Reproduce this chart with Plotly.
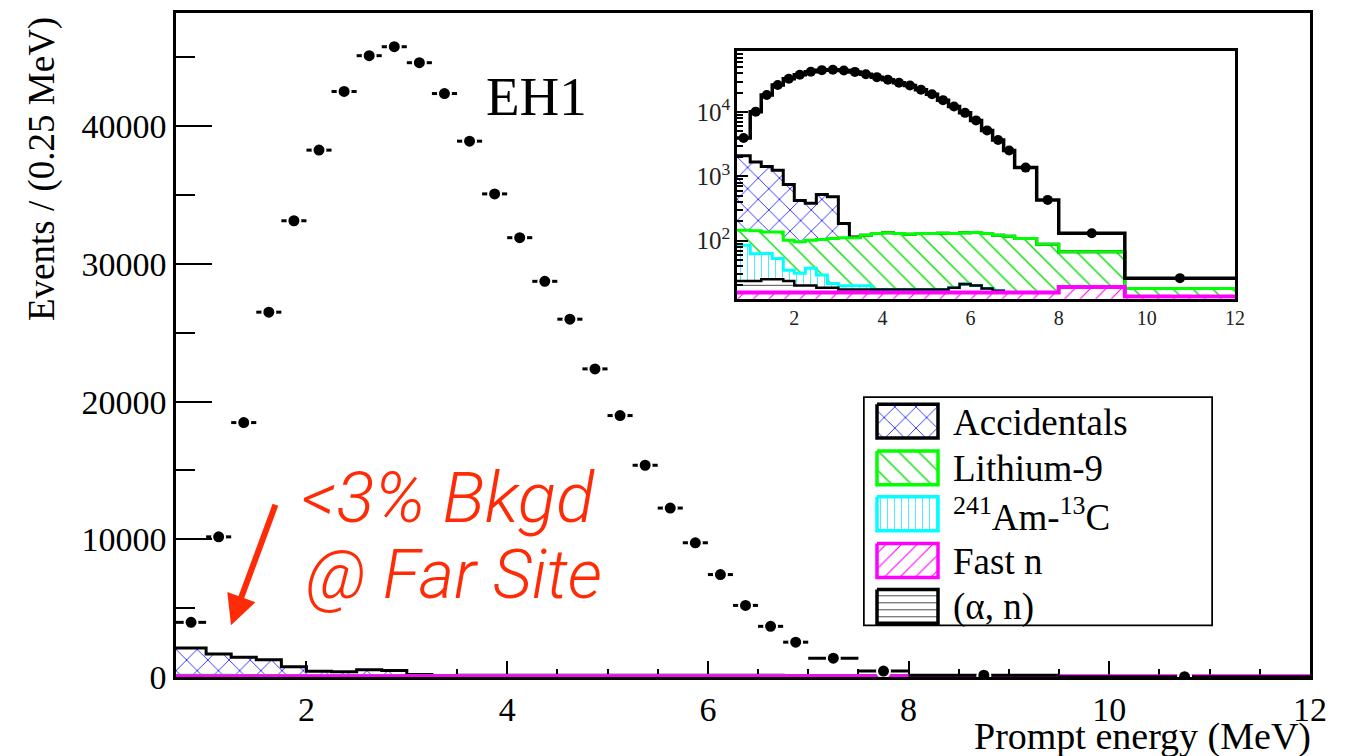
import numpy as np
import plotly.graph_objects as go

# ---------------- data ----------------
bin_edges = [0.7, 1.0, 1.25, 1.5, 1.75, 2.0, 2.25, 2.5, 2.75, 3.0, 3.25, 3.5, 3.75,
             4.0, 4.25, 4.5, 4.75, 5.0, 5.25, 5.5, 5.75, 6.0, 6.25, 6.5, 6.75, 7.0,
             7.5, 8.0, 9.5, 12.0]

data_counts = [3970, 10180, 18480, 26500, 33140, 38270, 42530, 45130, 45780, 44620,
               42380, 38920, 35090, 31910, 28740, 25990, 22380, 18990, 15380, 12270,
               9750, 7440, 5200, 3680, 2530, 1370, 430, 130, 26]

# background components (stacked bottom -> top)
fast_n = [15.5, 15.5, 15.5, 15.5, 15.5, 15.5, 15.5, 15.5, 15.5, 15.5, 15.5, 15.5, 15.5,
          15.5, 15.5, 15.5, 15.5, 15.5, 15.5, 15.5, 15.5, 15.5, 15.5, 15.5, 15.5, 15.5,
          15.5, 19, 13.5]
alpha_n = [8, 8, 9.5, 9.5, 8, 4.5, 4.5, 3, 3, 1.8, 1.8, 1.8, 1.8, 1.8, 1.8, 1.8, 1.8,
           1.8, 1.8, 3, 5.5, 4.5, 2.5, 1, 0, 0, 0, 0, 0]
am_c = [61, 39, 38, 27.5, 11, 11, 17, 10.5, 3, 2.5, 2.5, 2.5, 0, 0, 0, 0, 0, 0, 0, 0,
        0, 0, 0, 0, 0, 0, 0, 0, 0]
li9 = [60, 80, 73, 83.5, 66.5, 65, 64, 75, 86.5, 91, 91, 101, 112, 115, 112, 108, 112,
       112, 113, 110.5, 111, 114, 111, 104.5, 101.5, 92.5, 72.5, 48, 4.5]
accidentals = [1955, 1527, 1294, 1114, 649, 324, 279, 416, 372, 74, 3, 0, 0, 0, 0, 0,
               0, 0, 0, 0, 0, 0, 0, 0, 0, 0, 0, 0, 0]

component_names = ["Fast n", "(α, n)", "<sup>241</sup>Am-<sup>13</sup>C", "Lithium-9", "Accidentals"]
components = [fast_n, alpha_n, am_c, li9, accidentals]

# ---------------- styles ----------------
line_colors = ["#ff00ff", "#000000", "#00ffff", "#00ff00", "#000000"]
pat_colors = ["#ff00ff", "#000000", "#00e5ff", "#00dd00", "#0000ff"]
pat_shapes = ["/", "-", "|", "\\", "x"]
pat_sizes = [11, 7, 7, 14, 15]

RED = "#ff2b06"
SERIF = "Liberation Serif"

# the page body adds an 8 px offset; geometry below is in screen pixels
OFF = 8
FIG_W, FIG_H = 1350 - OFF, 756 - OFF
L, R, T, B = 176, 1310, 10, 677
W, H = R - L, B - T


def px(x):
    return (x - L) / W


def py(y):
    return (B - y) / H


edges = np.array(bin_edges)
centers = 0.5 * (edges[:-1] + edges[1:])
halfw = 0.5 * (edges[1:] - edges[:-1])
stack = np.cumsum(np.array(components, dtype=float), axis=0)
YMAX = 48230


def step_y(vals):
    v = list(vals)
    return v + [v[-1]]


def pattern(i):
    return dict(shape=pat_shapes[i], fgcolor=pat_colors[i], bgcolor="white",
                size=pat_sizes[i], solidity=0.1, fillmode="replace")


fig = go.Figure()

for xa, ya in [("x", "y"), ("x2", "y2")]:
    # baseline below the visible range
    fig.add_trace(go.Scatter(x=edges, y=np.full(len(edges), 1.0), mode="lines",
                             line=dict(width=0, shape="hv"), xaxis=xa, yaxis=ya,
                             showlegend=False, hoverinfo="skip"))
    # fills, bottom -> top
    for i in range(len(components)):
        fig.add_trace(go.Scatter(x=edges, y=step_y(stack[i]), mode="lines",
                                 line=dict(width=0, shape="hv"), fill="tonexty",
                                 fillcolor="rgba(0,0,0,0)", fillpattern=pattern(i),
                                 xaxis=xa, yaxis=ya, showlegend=False, hoverinfo="skip"))
    # outlines, top of stack first so lower components are drawn over
    widths = [4, 2.5, 3, 3, 3] if xa == "x2" else [5, 2, 2, 2.5, 3]
    for i in reversed(range(len(components))):
        fig.add_trace(go.Scatter(x=edges, y=step_y(stack[i]), mode="lines",
                                 line=dict(width=widths[i], color=line_colors[i], shape="hv"),
                                 xaxis=xa, yaxis=ya, showlegend=False,
                                 name=component_names[i]))

# inset: total prediction step line + data points
fig.add_trace(go.Scatter(x=edges, y=step_y(data_counts), mode="lines",
                         line=dict(width=3.5, color="black", shape="hv"),
                         xaxis="x2", yaxis="y2", showlegend=False))
fig.add_trace(go.Scatter(x=centers, y=data_counts, mode="markers",
                         marker=dict(size=10, color="black"),
                         xaxis="x2", yaxis="y2", showlegend=False))

# main: data points with horizontal bin-width bars
fig.add_trace(go.Scatter(x=centers, y=data_counts, mode="markers",
                         marker=dict(size=13, color="black", line=dict(color="white", width=2)),
                         error_x=dict(type="data", array=halfw, thickness=3, width=0, color="black"),
                         xaxis="x", yaxis="y", showlegend=False, name="Data"))

# ---------------- custom legend (hatched swatches) ----------------
leg_x0, leg_x1, leg_y0, leg_y1 = 863, 1213, 395, 626
legend_order = [4, 3, 2, 0, 1]  # Accidentals, Li9, AmC, Fast n, (alpha,n)
legend_border = ["#000000", "#00ff00", "#00ffff", "#ff00ff", "#000000"]
row_tops = [403, 450, 496, 543, 589]
for r, ci in enumerate(legend_order):
    t0 = row_tops[r]
    fig.add_trace(go.Scatter(x=[877, 938, 938, 877, 877], y=[t0, t0, t0 + 34, t0 + 34, t0],
                             mode="lines", fill="toself", fillcolor="rgba(0,0,0,0)",
                             fillpattern=pattern(ci),
                             line=dict(color=legend_border[r], width=3.5),
                             xaxis="x3", yaxis="y3", showlegend=False, hoverinfo="skip"))

annotations = []
for r, ci in enumerate(legend_order):
    annotations.append(dict(x=951, y=row_tops[r] + 18, xref="x3", yref="y3",
                            text=component_names[ci], showarrow=False,
                            xanchor="left", yanchor="middle",
                            font=dict(family=SERIF, size=37, color="black")))

# titles and labels
annotations += [
    dict(x=px(42), y=py(12), xref="paper", yref="paper", text="Events / (0.25 MeV)",
         textangle=-90, showarrow=False, xanchor="center", yanchor="top",
         font=dict(family=SERIF, size=37, color="black")),
    dict(x=px(1313), y=py(737), xref="paper", yref="paper", text="Prompt energy (MeV)",
         showarrow=False, xanchor="right", yanchor="middle",
         font=dict(family=SERIF, size=38, color="black")),
    dict(x=px(536), y=py(94), xref="paper", yref="paper", text="EH1", showarrow=False,
         xanchor="center", yanchor="middle", font=dict(family=SERIF, size=55, color="black")),
    dict(x=px(299), y=py(497), xref="paper", yref="paper", text="<3% Bkgd", showarrow=False,
         xanchor="left", yanchor="middle",
         font=dict(family="Roboto", size=71, color=RED, weight=300, style="italic")),
    dict(x=px(304), y=py(575), xref="paper", yref="paper", text="@ Far Site", showarrow=False,
         xanchor="left", yanchor="middle",
         font=dict(family="Roboto", size=68, color=RED, weight=300, style="italic")),
    # arrow
    dict(x=0.7 + (231 - L) / W * 11.3, y=(B - 625) / H * YMAX, xref="x", yref="y",
         ax=45, ay=-122, text="", showarrow=True, arrowhead=2, arrowsize=1,
         arrowwidth=6, arrowcolor=RED),
]

axis_common = dict(showgrid=False, zeroline=False, showline=True, linecolor="black",
                   mirror=True)

fig.update_layout(
    width=FIG_W, height=FIG_H,
    margin=dict(l=L - OFF, r=FIG_W - (R - OFF), t=T - OFF, b=FIG_H - (B - OFF), pad=0),
    paper_bgcolor="white", plot_bgcolor="white",
    showlegend=False,
    annotations=annotations,
    shapes=[dict(type="rect", xref="x3", yref="y3", x0=leg_x0, x1=leg_x1,
                 y0=leg_y0, y1=leg_y1, line=dict(color="black", width=3.5),
                 fillcolor="rgba(0,0,0,0)")],
    xaxis=dict(domain=[0, 1], range=[0.7, 12], anchor="y", tickmode="linear", tick0=0,
               dtick=2, ticks="inside", ticklen=16, tickwidth=2, tickcolor="black",
               minor=dict(ticks="inside", ticklen=8, tickwidth=2, dtick=0.5, tick0=0,
                          tickcolor="black"),
               linewidth=2.5, layer="below traces",
               tickfont=dict(family=SERIF, size=34, color="black"), **axis_common),
    yaxis=dict(domain=[0, 1], range=[0, YMAX], anchor="x", tickmode="linear", tick0=0,
               dtick=10000, ticks="inside", ticklen=36, tickwidth=2, tickcolor="black",
               tickformat="d",
               minor=dict(ticks="inside", ticklen=19, tickwidth=2, dtick=5000, tick0=0,
                          tickcolor="black"),
               linewidth=2.5, tickfont=dict(family=SERIF, size=34, color="black"),
               **axis_common),
    xaxis2=dict(domain=[px(737), px(1235)], range=[0.7, 12], anchor="y2",
                tickmode="linear", tick0=0, dtick=2, ticks="",
                linewidth=2.5, tickfont=dict(family=SERIF, size=20, color="#222"),
                **axis_common),
    yaxis2=dict(domain=[py(297), py(48)], type="log", range=[1.095, 4.955], anchor="x2",
                tickmode="linear", tick0=0, dtick=1, exponentformat="power",
                ticks="inside", ticklen=11, tickwidth=2, tickcolor="black",
                minor=dict(ticks="inside", ticklen=6, tickwidth=2, dtick="D1",
                           tickcolor="black"),
                linewidth=2.5, tickfont=dict(family=SERIF, size=20, color="#222"),
                **axis_common),
    xaxis3=dict(domain=[px(leg_x0), px(leg_x1)], range=[leg_x0, leg_x1], anchor="y3",
                visible=False, fixedrange=True),
    yaxis3=dict(domain=[py(leg_y1), py(leg_y0)], range=[leg_y1, leg_y0], anchor="x3",
                visible=False, fixedrange=True),
)

fig.write_html("out.html")
